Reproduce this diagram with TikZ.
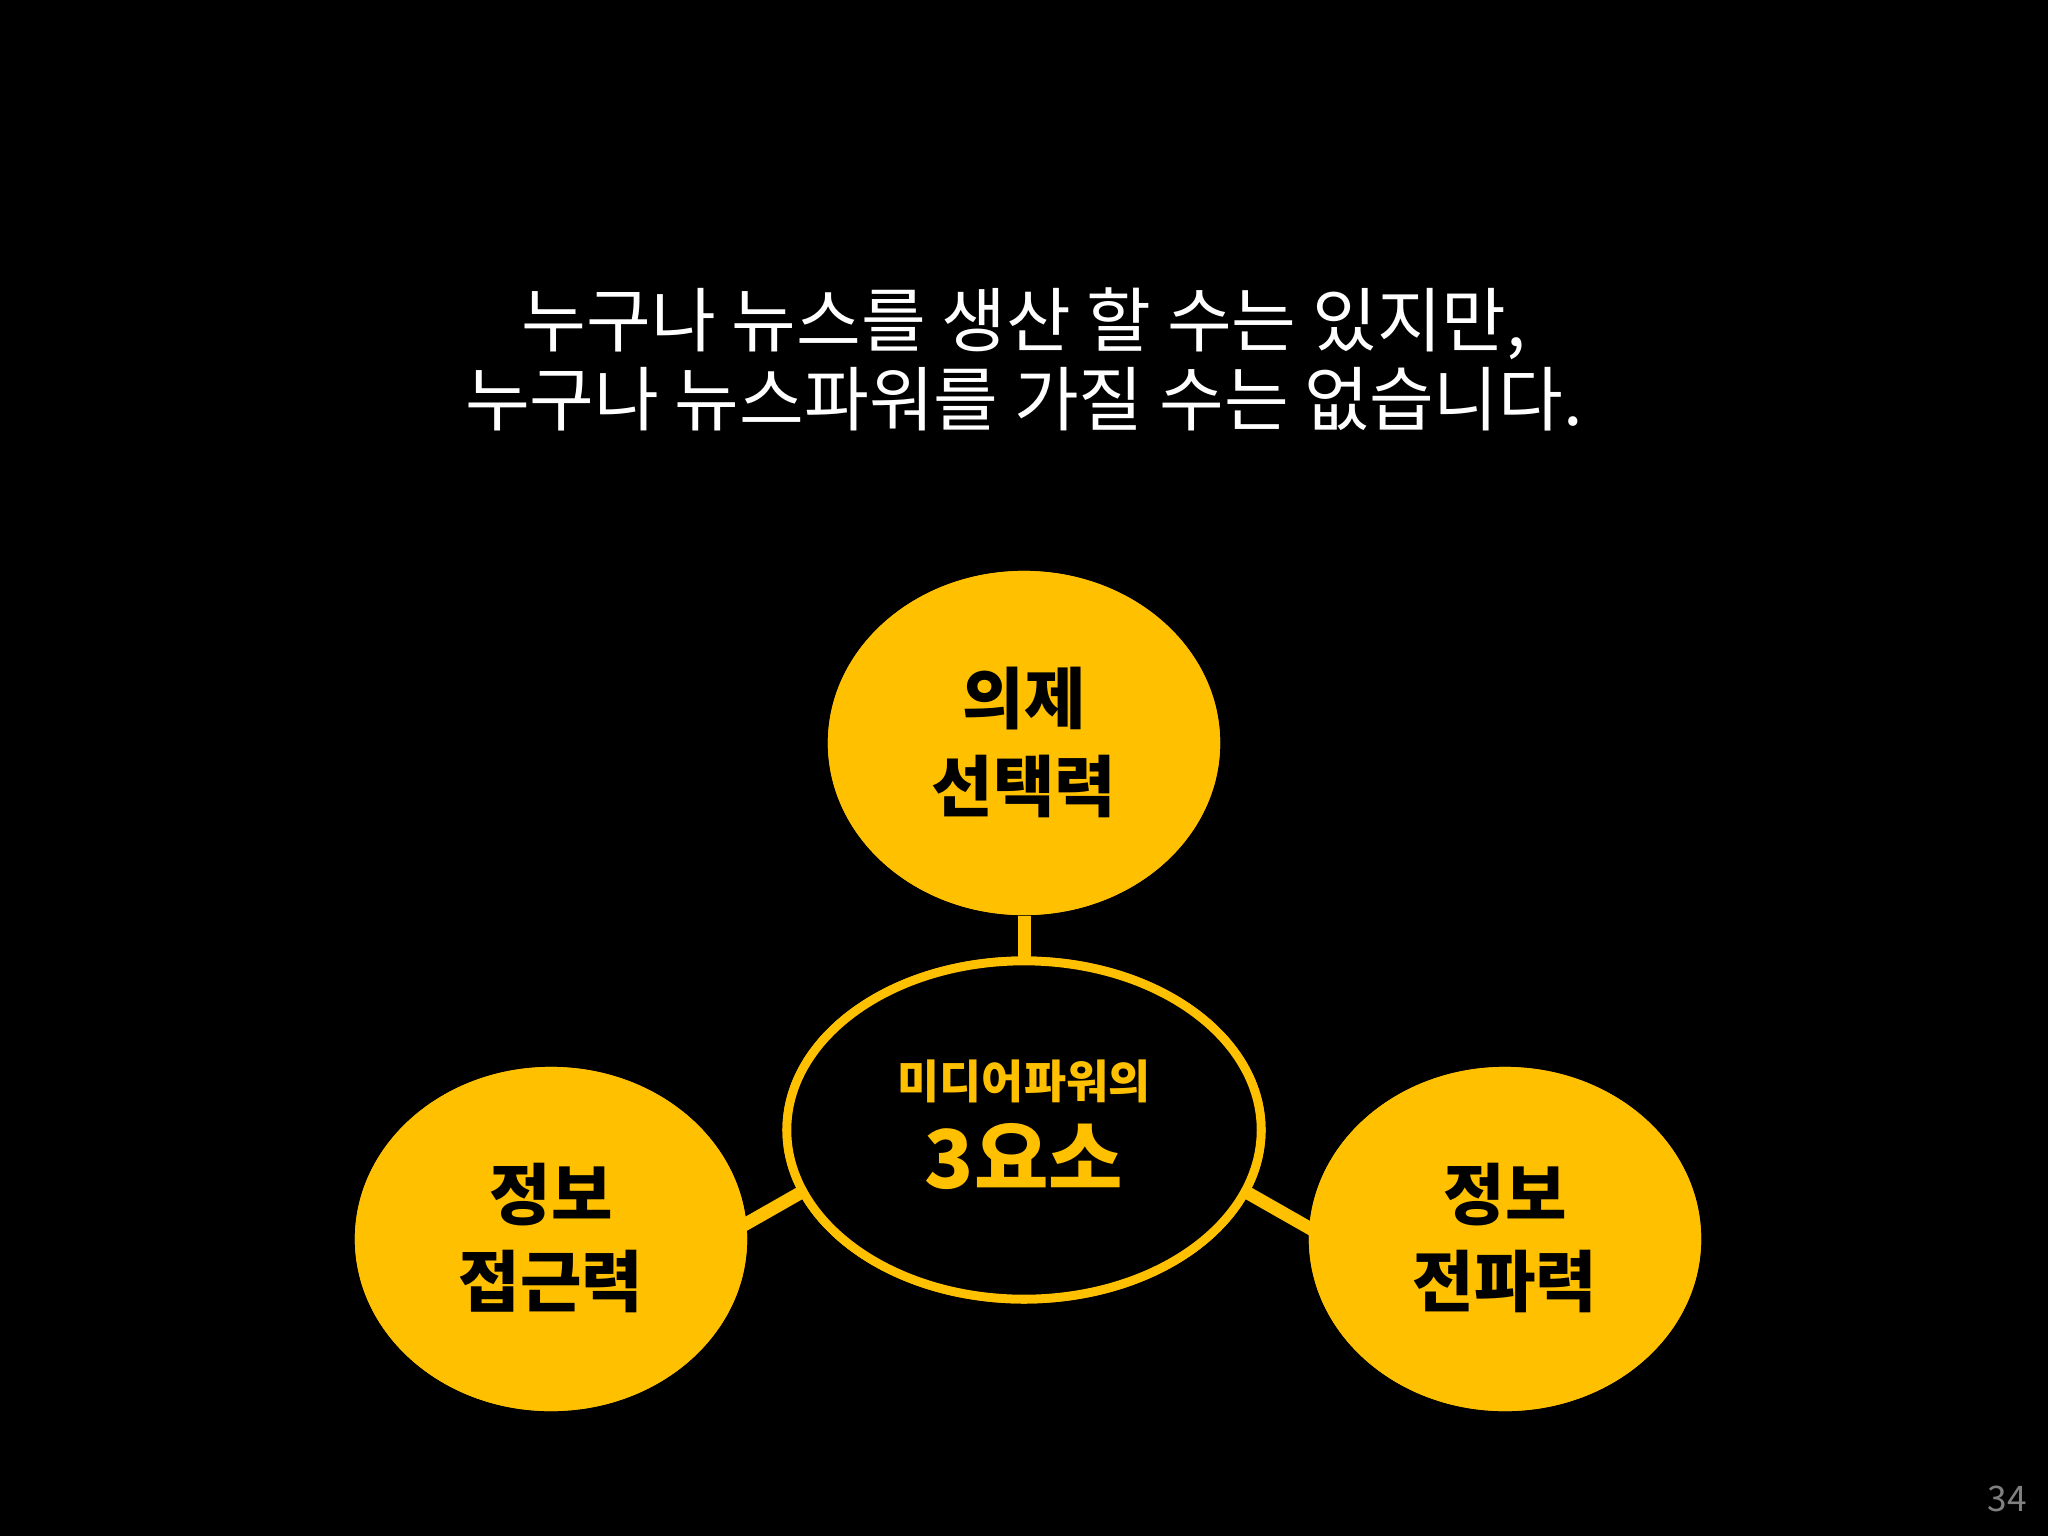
\documentclass[tikz,border=0pt]{standalone}
\usepackage{fontspec}
\setmainfont{Noto Sans CJK KR}
\newfontfamily\kr{Noto Sans CJK KR}
\usetikzlibrary{shapes.geometric}
\definecolor{ylw}{HTML}{FFC000}
\begin{document}
\begin{tikzpicture}[x=0.01cm,y=-0.01cm,
  bub/.style={ellipse,fill=ylw,minimum width=3.92cm,minimum height=3.44cm,inner sep=0pt},
  midbub/.style={ellipse,draw=ylw,line width=2.5pt,fill=black,minimum width=4.74cm,minimum height=3.38cm,inner sep=0pt},
  link/.style={ylw,line width=3.7pt},
  lbl/.style={font=\kr\fontsize{19}{25}\selectfont\bfseries,align=center,text=black}]
\fill[black] (0,0) rectangle (2048,1536);
\useasboundingbox (0,0) rectangle (2048,1536);
\node[text=white,font=\kr\fontsize{20}{22.5}\selectfont,align=center] (title) at (1024,359) {누구나 뉴스를 생산 할 수는 있지만,\\누구나 뉴스파워를 가질 수는 없습니다.};
\node[bub] (top) at (1024,743) {};
\node[bub] (left) at (551,1239) {};
\node[bub] (right) at (1505,1239) {};
\node[midbub] (mid) at (1024,1130) {};
\coordinate (la) at (700,1250);
\coordinate (lb) at (830,1176);
\coordinate (ra) at (1348,1250);
\coordinate (rb) at (1218,1176);
\draw[link] (top) -- (mid);
\draw[link] (la) -- (lb);
\draw[link] (ra) -- (rb);
\node[midbub] (mid2) at (1024,1130) {};
\node[bub] (left2) at (551,1239) {};
\node[bub] (right2) at (1505,1239) {};
\node[bub] (top2) at (1024,743) {};
\node[lbl] (tt) at (1024,742) {의제\\선택력};
\node[lbl] (lt) at (551,1238) {정보\\접근력};
\node[lbl] (rt) at (1505,1238) {정보\\전파력};
\node[text=ylw,font=\kr\fontsize{13}{15}\selectfont\bfseries] (m1) at (1024,1081) {미디어파워의};
\node[text=ylw,font=\kr\fontsize{23}{27}\selectfont\bfseries] (m2) at (1024,1156) {3요소};
\node[text=gray,font=\kr\fontsize{10}{12}\selectfont] (pg) at (2007,1499) {34};
\end{tikzpicture}
\end{document}
